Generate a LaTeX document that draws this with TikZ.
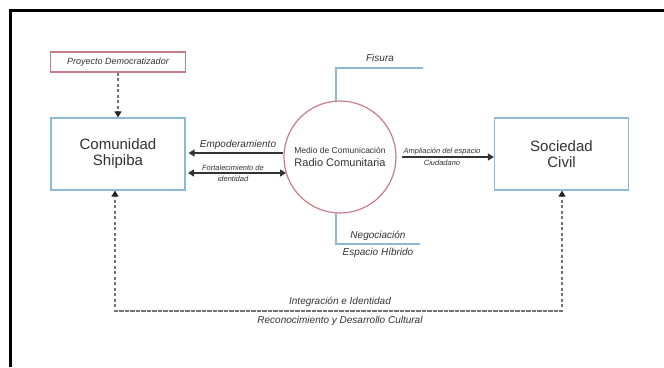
\documentclass[tikz,border=0pt]{standalone}
\usepackage{fontspec}
\setmainfont{Liberation Sans}
\usetikzlibrary{arrows.meta,calc}
\definecolor{boxred}{RGB}{200,125,135}
\definecolor{boxblue}{RGB}{140,185,212}
\definecolor{txt}{RGB}{50,50,50}
\tikzset{
  mainbox/.style={draw=boxblue,line width=1.2pt,minimum width=134pt,minimum height=72pt,inner sep=0pt,align=center,font=\fontsize{15}{16}\selectfont,text=txt},
  redbox/.style={draw=boxred,line width=1.2pt,minimum width=135pt,minimum height=20pt,inner sep=0pt,font=\fontsize{9}{10}\selectfont\itshape,text=txt},
  radio/.style={circle,draw=boxred,line width=1.2pt,minimum size=112pt,inner sep=0pt,align=center,text=txt},
  lbl/.style={font=\fontsize{10}{11}\selectfont\itshape,text=txt,inner sep=0pt},
  small/.style={font=\fontsize{7.5}{8}\selectfont\itshape,text=txt,inner sep=0pt,align=center},
  solidarrow/.style={line width=1.3pt,draw=black!80,-{Triangle[length=6pt,width=7pt]}},
  dasharrow/.style={line width=1.4pt,draw=black!55,dash pattern=on 3pt off 2.5pt,-{Triangle[length=6pt,width=7pt,color=black!85]}},
  bluel/.style={draw=boxblue,line width=1.3pt}
}
\begin{document}
\begin{tikzpicture}[x=1pt,y=-1pt]
\useasboundingbox (0,0) rectangle (664,367);
\draw[line width=3pt,black] (10,367) -- (10,10) -- (664,10);

\node[redbox] (proj) at (118,62) {Proyecto Democratizador};
\node[mainbox] (com) at (118,154) {Comunidad\\Shipiba};
\node[mainbox] (soc) at (561.5,154) {Sociedad\\Civil};
\node[radio] (rad) at (340,157) {{\fontsize{8.5}{9}\selectfont Medio de Comunicación}\\[1pt]{\fontsize{11}{12}\selectfont Radio Comunitaria}};

\draw[dasharrow] (proj) -- (com);

% Empoderamiento
\coordinate (empS) at (283,153);
\coordinate (empE) at (com.east |- empS);
\draw[solidarrow] (empS) -- ($(empE)+(3,0)$);
\node[lbl] (emp) at (238,145) {Empoderamiento};

% Fortalecimiento
\coordinate (forL) at (188,173);
\coordinate (forR) at (286,173);
\draw[line width=1.3pt,draw=black!80,{Triangle[length=6pt,width=7pt]}-{Triangle[length=6pt,width=7pt]}] (forL) -- (forR);
\node[small] (for1) at (233,167.5) {Fortalecimiento de};
\node[small] (for2) at (233,178.5) {identidad};

% Ampliacion
\coordinate (ampS) at (402,157);
\draw[solidarrow] (ampS) -- (soc.west |- ampS);
\node[small] (amp1) at (442,151.5) {Ampliación del espacio};
\node[small] (amp2) at (442,162.5) {Ciudadano};

% Fisura
\coordinate (fisR) at (423,68);
\draw[bluel] (rad.94) |- (fisR);
\node[lbl] (fis) at (380,58) {Fisura};

% Negociacion
\coordinate (negR) at (420,244);
\draw[bluel] (rad.266) |- (negR);
\node[lbl] (neg) at (378,236) {Negociación};
\node[lbl] (esp) at (378,253) {Espacio Híbrido};

% Bottom loop
\coordinate (bl) at (115,311);
\coordinate (br) at (562,311);
\draw[dasharrow] (br) -- (bl) -- (com.south -| bl);
\draw[dasharrow] (bl) -- (br) -- (soc.south -| br);
\node[lbl] (int) at (340,302) {Integración e Identidad};
\node[lbl] (rec) at (340,321) {Reconocimiento y Desarrollo Cultural};
\end{tikzpicture}
\end{document}
